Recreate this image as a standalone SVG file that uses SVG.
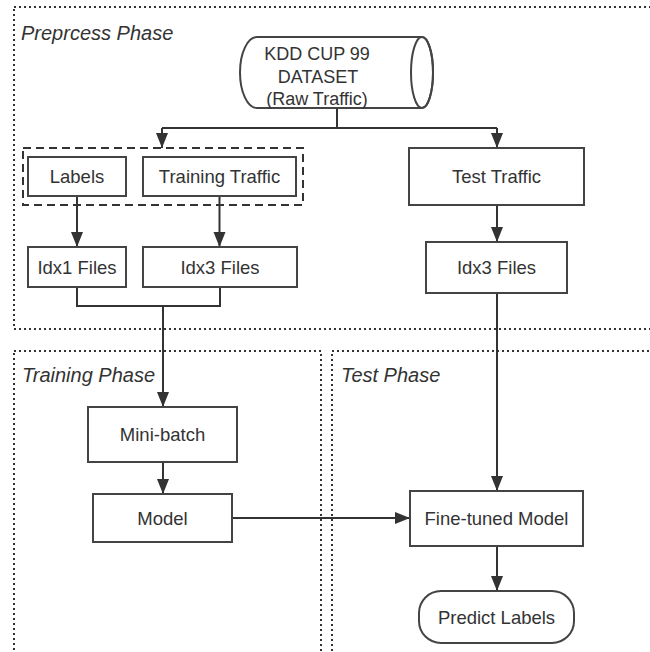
<svg xmlns="http://www.w3.org/2000/svg" width="650" height="652" viewBox="0 0 650 652">
<defs>
<marker id="arr" markerUnits="userSpaceOnUse" markerWidth="16" markerHeight="14" viewBox="0 0 16 14" refX="15" refY="7" orient="auto">
<path d="M0,1 L15,7 L0,13 Z" fill="#333"/>
</marker>
<style>
.phase{fill:none;stroke:#333;stroke-width:2;stroke-dasharray:2 3}
.group{fill:none;stroke:#333;stroke-width:2;stroke-dasharray:8 5}
.box{fill:#fff;stroke:#444;stroke-width:2}
.lbl{font-family:"Liberation Sans",Arial,sans-serif;font-size:18.5px;fill:#333;text-anchor:middle}
.ph{font-family:"Liberation Sans",Arial,sans-serif;font-size:20px;font-style:italic;fill:#333}
.conn{fill:none;stroke:#333;stroke-width:2}
</style>
</defs>
<rect width="650" height="652" fill="#fff"/>

<g id="preprocess-phase">
<rect class="phase" x="14" y="7" width="660" height="322"/>
<text class="ph" x="21" y="40">Preprcess Phase</text>
</g>
<g id="training-phase">
<rect class="phase" x="14" y="351" width="307" height="330"/>
<text class="ph" x="22" y="382">Training Phase</text>
</g>
<g id="test-phase">
<rect class="phase" x="332" y="351" width="400" height="330"/>
<text class="ph" x="341" y="382">Test Phase</text>
</g>

<g id="training-group">
<rect class="group" x="23" y="148" width="280" height="57"/>
</g>

<g id="connectors">
<path class="conn" d="M337,108 V128"/>
<path class="conn" d="M162,128 H497"/>
<path class="conn" d="M162,128 V148" marker-end="url(#arr)"/>
<path class="conn" d="M497,128 V148" marker-end="url(#arr)"/>
<path class="conn" d="M77,196 V247" marker-end="url(#arr)"/>
<path class="conn" d="M219.5,196 V247" marker-end="url(#arr)"/>
<path class="conn" d="M77,287 V306 H220 V287"/>
<path class="conn" d="M163,306 V407" marker-end="url(#arr)"/>
<path class="conn" d="M497,205 V242" marker-end="url(#arr)"/>
<path class="conn" d="M497,293 V491" marker-end="url(#arr)"/>
<path class="conn" d="M163,462 V494" marker-end="url(#arr)"/>
<path class="conn" d="M232,518 H410" marker-end="url(#arr)"/>
<path class="conn" d="M497,546 V591" marker-end="url(#arr)"/>
</g>

<g id="dataset">
<path class="box" d="M257,37 L422,37 A11,35.5 0 0 1 422,108 L257,108 A17,35.5 0 0 1 257,37 Z"/>
<ellipse cx="422" cy="72.5" rx="11" ry="35.5" fill="none" stroke="#444" stroke-width="2"/>
<text class="lbl" style="font-size:18px" x="317" y="60">KDD CUP 99</text>
<text class="lbl" style="font-size:18px" x="318" y="83">DATASET</text>
<text class="lbl" style="font-size:18px" x="317" y="105">(Raw Traffic)</text>
</g>

<g id="labels">
<rect class="box" x="28" y="157" width="98" height="39"/>
<text class="lbl" x="77" y="183">Labels</text>
</g>
<g id="training-traffic">
<rect class="box" x="143" y="157" width="153" height="39"/>
<text class="lbl" x="219.5" y="183">Training Traffic</text>
</g>
<g id="test-traffic">
<rect class="box" x="409" y="148" width="175" height="57"/>
<text class="lbl" x="496.5" y="183">Test Traffic</text>
</g>
<g id="idx1-files">
<rect class="box" x="28" y="247" width="98" height="40"/>
<text class="lbl" x="77" y="274">Idx1 Files</text>
</g>
<g id="idx3-files-train">
<rect class="box" x="143" y="247" width="154" height="40"/>
<text class="lbl" x="220" y="274">Idx3 Files</text>
</g>
<g id="idx3-files-test">
<rect class="box" x="426" y="242" width="141" height="51"/>
<text class="lbl" x="496.5" y="274">Idx3 Files</text>
</g>
<g id="mini-batch">
<rect class="box" x="88" y="407" width="149" height="55"/>
<text class="lbl" x="162.5" y="441">Mini-batch</text>
</g>
<g id="model">
<rect class="box" x="93" y="494" width="139" height="48"/>
<text class="lbl" x="162.5" y="524.5">Model</text>
</g>
<g id="fine-tuned-model">
<rect class="box" x="410" y="491" width="173" height="55"/>
<text class="lbl" x="496.5" y="524.5">Fine-tuned Model</text>
</g>
<g id="predict-labels">
<rect class="box" x="419" y="591" width="155" height="52" rx="22" ry="22"/>
<text class="lbl" x="496.5" y="623.5">Predict Labels</text>
</g>
</svg>
